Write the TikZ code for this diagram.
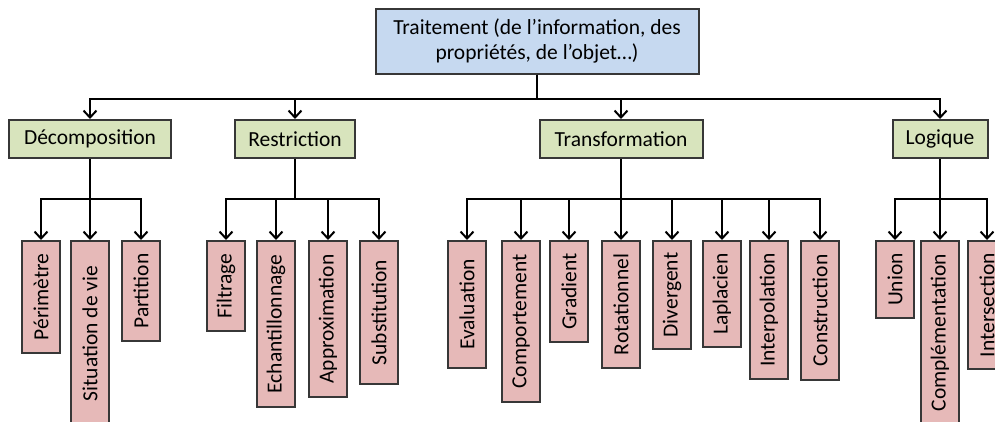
\documentclass[tikz,border=0pt]{standalone}
\usepackage{fontspec}
\setmainfont{Carlito}
\usetikzlibrary{arrows.meta}
\definecolor{topfill}{RGB}{198,217,240}
\definecolor{midfill}{RGB}{216,228,189}
\definecolor{leaffill}{RGB}{230,185,184}
\definecolor{edgecol}{RGB}{55,55,55}
\tikzset{
  box/.style={draw=edgecol, line width=2pt, inner sep=0pt, font=\fontsize{21.5}{25}\selectfont},
  topbox/.style={box, fill=topfill, minimum width=323, minimum height=65, align=center},
  midbox/.style={box, fill=midfill, minimum height=38},
  leaf/.style={box, fill=leaffill, minimum width=38, anchor=north},
  conn/.style={line width=2pt, black},
  arr/.style={conn, -{Straight Barb[length=7pt,width=13pt,line width=2pt]}}
}
\newcommand{\rt}[1]{\rotatebox{90}{#1}}
\begin{document}
\begin{tikzpicture}[x=1pt,y=-1pt]
\useasboundingbox (0,0) rectangle (995,421);
\clip (0,0) rectangle (995,421);
% top
\node[topbox] (top) at (537,41) {Traitement (de l’information, des\\propriétés, de l’objet…)};
% level 2
\node[midbox, minimum width=162] (dec) at (90,139) {Décomposition};
\node[midbox, minimum width=120] (res) at (295,139) {Restriction};
\node[midbox, minimum width=163] (tra) at (621,139) {Transformation};
\node[midbox, minimum width=95] (log) at (940,139) {Logique};
\foreach \n in {dec,res,tra,log}{
  \draw[arr] (top.south) -- ++(0,24) -| (\n.north);
}
% Decomposition leaves
\node[leaf, minimum height=112] (d1) at (41,240) {\rt{Périmètre}};
\node[leaf, minimum height=185] (d2) at (90,240) {\rt{Situation de vie}};
\node[leaf, minimum height=100] (d3) at (141,240) {\rt{Partition}};
% Restriction leaves
\node[leaf, minimum height=90] (r1) at (226,240) {\rt{Filtrage}};
\node[leaf, minimum height=166] (r2) at (276,240) {\rt{Echantillonnage}};
\node[leaf, minimum height=156] (r3) at (328,240) {\rt{Approximation}};
\node[leaf, minimum height=143] (r4) at (379,240) {\rt{Substitution}};
% Transformation leaves
\node[leaf, minimum height=127] (t1) at (467,240) {\rt{Evaluation}};
\node[leaf, minimum height=161] (t2) at (521,240) {\rt{Comportement}};
\node[leaf, minimum height=101] (t3) at (569,240) {\rt{Gradient}};
\node[leaf, minimum height=127] (t4) at (621,240) {\rt{Rotationnel}};
\node[leaf, minimum height=108] (t5) at (672,240) {\rt{Divergent}};
\node[leaf, minimum height=106] (t6) at (722,240) {\rt{Laplacien}};
\node[leaf, minimum height=138] (t7) at (769,240) {\rt{Interpolation}};
\node[leaf, minimum height=139] (t8) at (820,240) {\rt{Construction}};
% Logique leaves
\node[leaf, minimum height=77] (l1) at (895,240) {\rt{Union}};
\node[leaf, minimum height=183] (l2) at (940,240) {\rt{Complémentation}};
\node[leaf, minimum height=128] (l3) at (987,240) {\rt{Intersection}};
% connectors
\foreach \c in {d1,d2,d3}{\draw[arr] (dec.south) -- ++(0,40) -| (\c.north);}
\foreach \c in {r1,r2,r3,r4}{\draw[arr] (res.south) -- ++(0,40) -| (\c.north);}
\foreach \c in {t1,t2,t3,t4,t5,t6,t7,t8}{\draw[arr] (tra.south) -- ++(0,40) -| (\c.north);}
\foreach \c in {l1,l2,l3}{\draw[arr] (log.south) -- ++(0,40) -| (\c.north);}
\end{tikzpicture}
\end{document}
